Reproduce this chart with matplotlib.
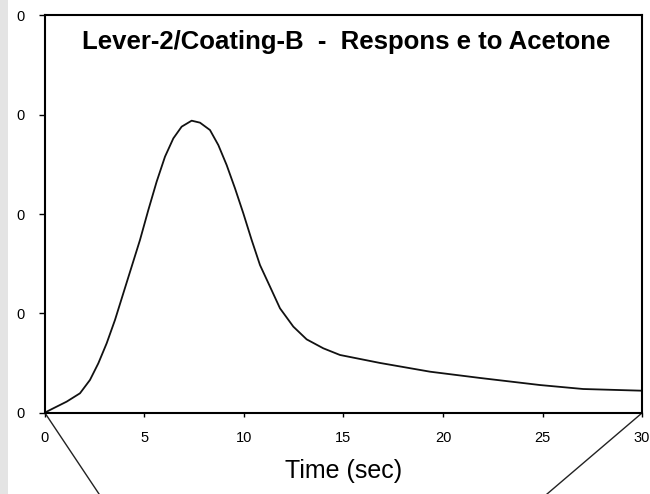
import matplotlib.pyplot as plt
from matplotlib.lines import Line2D
from matplotlib.patches import Rectangle

# Response curve (time in sec, response in arbitrary units)
time_sec = [0.0, 0.084, 0.419, 1.089, 1.759, 2.261, 2.680, 3.099, 3.518,
            3.936, 4.355, 4.774, 5.193, 5.611, 6.030, 6.449, 6.868, 7.370,
            7.789, 8.291, 8.710, 9.129, 9.548, 9.966, 10.385, 10.804,
            11.307, 11.809, 12.479, 13.149, 13.987, 14.824, 16.83, 19.35,
            21.86, 24.87, 27.04, 30.0]
response = [0.0, 0.0013, 0.0047, 0.0114, 0.0198, 0.0332, 0.0499, 0.0700,
            0.0935, 0.1203, 0.1471, 0.1739, 0.2040, 0.2325, 0.2576, 0.2760,
            0.2878, 0.2938, 0.2918, 0.2844, 0.2693, 0.2492, 0.2258, 0.2007,
            0.1739, 0.1487, 0.1270, 0.1052, 0.0868, 0.0740, 0.0650, 0.0583,
            0.0503, 0.0415, 0.0352, 0.0281, 0.0241, 0.0224]

x_ticks = [0, 5, 10, 15, 20, 25, 30]
y_ticks = [0.0, 0.1, 0.2, 0.3, 0.4]
title = 'Lever-2/Coating-B  -  Respons e to Acetone'

plt.rcParams['font.family'] = ['Liberation Sans', 'DejaVu Sans']

fig = plt.figure(figsize=(6.5, 4.94), dpi=100)
fig.patch.set_facecolor('white')
# grey strip at the left edge of the screenshot
fig.patches.append(Rectangle((0, 0), 0.013, 1, transform=fig.transFigure,
                             facecolor='#e4e4e4', edgecolor='none'))

ax = fig.add_axes([0.0692, 0.164, 0.9185, 0.8056])
ax.plot(time_sec, response, color='#111111', lw=1.3)

ax.set_xlim(0, 30)
ax.set_ylim(0, 0.4)
ax.set_xticks(x_ticks)
ax.set_xticklabels([str(t) for t in x_ticks])
ax.set_yticks(y_ticks)
ax.set_yticklabels(['0' for _ in y_ticks])
ax.tick_params(axis='x', direction='out', length=3, width=1, pad=10, labelsize=10.5)
ax.tick_params(axis='y', direction='out', length=4, width=1, pad=11, labelsize=10.5)
for s in ax.spines.values():
    s.set_linewidth(1.5)
    s.set_color('black')

ax.set_xlabel('Time (sec)', fontsize=18, labelpad=10)
ax.text(0.504, 0.932, title, transform=ax.transAxes, ha='center', va='center',
        fontsize=18.5, fontweight='bold')

# zoom callout lines running off the bottom of the frame
for xs in ([0.0, 0.0905], [1.0, 0.841]):
    ax.add_line(Line2D(xs, [0.0, -0.2035], transform=ax.transAxes,
                       color='#222222', lw=1, clip_on=False))

fig.savefig('out.png', dpi=100)
